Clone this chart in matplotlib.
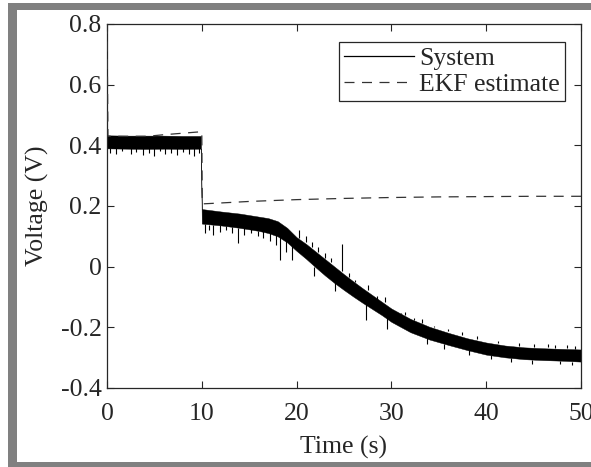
import numpy as np
import matplotlib
matplotlib.use("Agg")
import matplotlib.pyplot as plt
from matplotlib.patches import Rectangle

# ---------------- data ----------------
# System voltage: band envelope (upper / lower edges of the noisy trace)
sys_t = [0, 2, 4, 6, 8, 9.9, 10.0, 12, 14, 16, 17, 18, 19, 20, 21, 22, 23, 24, 25,
         26, 27, 28, 29, 30, 32, 34, 36, 38, 40, 42, 44, 46, 48, 50]
sys_upper = [0.433, 0.432, 0.432, 0.432, 0.431, 0.431, 0.190, 0.182, 0.175, 0.165,
             0.160, 0.150, 0.128, 0.097, 0.075, 0.050, 0.025, 0.000, -0.025,
             -0.049, -0.072, -0.094, -0.116, -0.138, -0.172, -0.198, -0.218,
             -0.236, -0.250, -0.260, -0.266, -0.269, -0.271, -0.273]
sys_lower = [0.390, 0.389, 0.388, 0.389, 0.388, 0.389, 0.142, 0.136, 0.128, 0.118,
             0.111, 0.100, 0.080, 0.052, 0.026, -0.002, -0.029, -0.054, -0.077,
             -0.099, -0.120, -0.140, -0.160, -0.182, -0.216, -0.240, -0.258,
             -0.275, -0.290, -0.299, -0.305, -0.308, -0.310, -0.313]

# Noise spikes of the system trace: time, start value, tip value
spike_t = [0.3, 0.9, 1.6, 2.5, 3.1, 3.8, 4.4, 5.0, 5.6, 6.1, 6.8, 7.4, 8.0, 8.6, 9.2, 9.7,
           10.3, 10.8, 11.2, 11.9, 12.6, 13.2, 13.8, 14.5, 15.2, 15.9, 16.5, 17.2, 17.8,
           18.3, 18.9, 19.5,
           20.3, 21.0, 21.6, 22.3, 23.0, 23.6, 24.8, 25.5, 26.2, 27.5, 28.5, 29.3, 31.0,
           31.4, 32.4, 33.2, 34.5, 36.0, 37.4, 39.0, 41.2, 43.5, 45.0, 46.5, 47.3, 48.5,
           49.4,
           27.3, 29.5, 21.8, 24.0, 33.8, 35.5, 38.2, 40.5, 42.6, 44.8, 47.8, 49.0]
spike_from = [0.392, 0.392, 0.392, 0.392, 0.392, 0.392, 0.392, 0.392, 0.392, 0.392,
              0.392, 0.392, 0.392, 0.392, 0.392, 0.392,
              0.141, 0.139, 0.138, 0.136, 0.134, 0.131, 0.128, 0.126, 0.123, 0.119,
              0.116, 0.111, 0.103, 0.098, 0.085, 0.070,
              0.095, 0.080, 0.065, 0.050, 0.030, 0.015, -0.015, -0.035, -0.050,
              -0.078, -0.098, -0.115, -0.155, -0.160, -0.175, -0.185, -0.200, -0.212,
              -0.225, -0.238, -0.252, -0.260, -0.264, -0.266, -0.267, -0.268, -0.270,
              -0.120, -0.170, 0.000, -0.050, -0.235, -0.255, -0.275, -0.290, -0.300,
              -0.309, -0.312, -0.314]
spike_to = [0.375, 0.370, 0.380, 0.372, 0.378, 0.368, 0.375, 0.365, 0.380, 0.370,
            0.376, 0.369, 0.378, 0.372, 0.366, 0.375,
            0.110, 0.120, 0.104, 0.115, 0.120, 0.110, 0.078, 0.105, 0.110, 0.100,
            0.095, 0.085, 0.070, 0.022, 0.050, 0.022,
            0.120, 0.100, 0.080, 0.065, 0.045, 0.030, 0.075, -0.020, -0.044,
            -0.060, -0.115, -0.100, -0.152, -0.150, -0.170, -0.172, -0.196, -0.205,
            -0.215, -0.230, -0.245, -0.252, -0.256, -0.255, -0.258, -0.258, -0.262,
            -0.176, -0.205, -0.030, -0.080, -0.255, -0.272, -0.290, -0.305, -0.313,
            -0.320, -0.322, -0.325]

# EKF estimate
ekf_t = [0, 0.1, 2, 4, 5, 6, 8, 10, 10.05, 12, 15, 20, 25, 30, 35, 40, 45, 50]
ekf_v = [0.80, 0.430, 0.430, 0.430, 0.432, 0.435, 0.440, 0.445, 0.207, 0.210,
         0.215, 0.221, 0.225, 0.228, 0.230, 0.231, 0.232, 0.232]

x_ticks = [0, 10, 20, 30, 40, 50]
y_ticks = [-0.4, -0.2, 0, 0.2, 0.4, 0.6, 0.8]
y_ticklabels = ["-0.4", "-0.2", "0", "0.2", "0.4", "0.6", "0.8"]

# ---------------- figure ----------------
W, H = 591, 467
fig = plt.figure(figsize=(W / 100, H / 100), dpi=100)
plt.rcParams["font.family"] = ["Liberation Serif", "DejaVu Serif"]
axc = "#262626"
FS = 18.5

# grey frame around the figure
def px_rect(x0, y0, x1, y1):
    fig.patches.append(Rectangle((x0 / W, 1 - y1 / H), (x1 - x0) / W, (y1 - y0) / H,
                                 transform=fig.transFigure, facecolor="#808080",
                                 edgecolor="none", zorder=0))
px_rect(8, 3, W, 10)
px_rect(8, 3, 17, H)
px_rect(8, 462, W, H)

ax = fig.add_axes([107 / W, 1 - 388 / H, (581 - 107) / W, (388 - 24) / H])

ax.fill_between(sys_t, sys_lower, sys_upper, color="black", linewidth=0.3,
                edgecolor="black", zorder=2)
ax.vlines(spike_t, spike_from, spike_to, color="black", linewidth=0.8, zorder=2)
# proxy for legend
ax.plot([], [], color="black", linewidth=0.9, label="System")
ax.plot(ekf_t, ekf_v, color="#333333", linewidth=0.9, dashes=(8, 6),
        label="EKF estimate", zorder=3)

ax.set_xlim(0, 50)
ax.set_ylim(-0.4, 0.8)
ax.set_xticks(x_ticks)
ax.set_yticks(y_ticks)
ax.set_yticklabels(y_ticklabels)
ax.tick_params(direction="in", length=5, width=0.8, colors=axc, labelsize=FS,
               top=True, right=True)
ax.tick_params(axis="x", pad=11)
ax.tick_params(axis="y", pad=4)
for s in ax.spines.values():
    s.set_color(axc)
    s.set_linewidth(0.9)

ax.set_xlabel("Time (s)", fontsize=FS, color=axc, labelpad=8)
ax.set_ylabel("Voltage (V)", fontsize=FS, color=axc, labelpad=8)

leg = ax.legend(loc="upper right", bbox_to_anchor=(0.966, 0.9505), fontsize=FS,
                frameon=True, fancybox=False, edgecolor=axc, framealpha=1,
                handlelength=2.7, handletextpad=0.2, borderpad=0.2,
                labelspacing=0.1, borderaxespad=0)
leg.get_frame().set_linewidth(0.9)
for t in leg.get_texts():
    t.set_color(axc)

fig.savefig("out.png", dpi=100)
